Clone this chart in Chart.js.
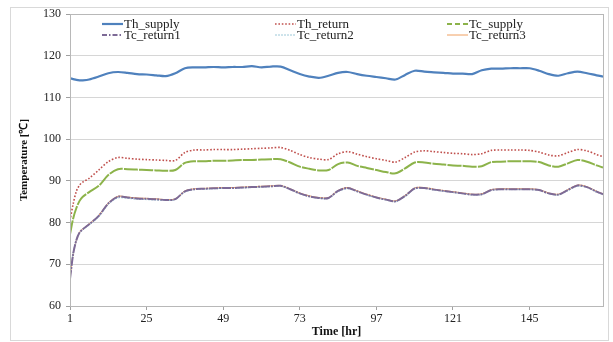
<!DOCTYPE html>
<html>
<head>
<meta charset="utf-8">
<script src="https://cdn.jsdelivr.net/npm/chart.js@4/dist/chart.umd.min.js"></script>
<style>
  html, body { margin: 0; padding: 0; background: #fff; }
  #wrap { position: relative; width: 613px; height: 342px; }
  #frame { position: absolute; left: 10px; top: 7px; width: 599px; height: 334px; border: 1px solid #d9d9d9; box-sizing: border-box; }
  canvas { position: absolute; left: 0; top: 0; }
</style>
</head>
<body>
<div id="wrap">
  <div id="frame"></div>
  <canvas id="chart" width="613" height="342"></canvas>
</div>
<script>
const hours = [1, 2, 3, 4, 5, 7, 10, 13, 16, 19, 22, 25, 28, 31, 34, 37, 40, 43, 46, 49,
  52, 55, 58, 61, 64, 67, 70, 73, 76, 79, 82, 85, 88, 91, 94, 97, 100, 103, 106, 109,
  112, 115, 118, 121, 124, 127, 130, 133, 136, 139, 142, 145, 148, 151, 154, 157, 160, 163, 166, 168];

const thSupply = [114.6, 114.4, 114.2, 114.1, 114.1, 114.3, 115.0, 115.8, 116.1, 115.9,
  115.6, 115.5, 115.3, 115.1, 115.8, 117.0, 117.2, 117.2, 117.3, 117.2,
  117.3, 117.3, 117.5, 117.2, 117.4, 117.4, 116.5, 115.6, 115.0, 114.7,
  115.2, 115.9, 116.1, 115.6, 115.2, 114.9, 114.6, 114.3, 115.4, 116.4,
  116.2, 116.0, 115.9, 115.7, 115.7, 115.6, 116.5, 116.9, 116.9, 117.0,
  117.0, 117.0, 116.4, 115.6, 115.2, 115.8, 116.2, 115.8, 115.3, 115.0];

const thReturn = [80.5, 84.5, 87.5, 89.0, 89.7, 90.6, 92.6, 94.6, 95.6, 95.4,
  95.2, 95.1, 95.0, 94.9, 94.9, 96.8, 97.4, 97.4, 97.5, 97.5,
  97.5, 97.6, 97.7, 97.8, 97.9, 98.0, 97.3, 96.3, 95.6, 95.2,
  95.1, 96.5, 97.0, 96.4, 95.8, 95.3, 94.9, 94.5, 95.6, 96.9,
  97.2, 97.0, 96.8, 96.6, 96.5, 96.3, 96.5, 97.3, 97.4, 97.4,
  97.4, 97.3, 96.9, 96.2, 96.0, 96.8, 97.5, 97.2, 96.3, 95.8];

const tcSupply = [77.2, 81.0, 83.5, 85.2, 86.2, 87.3, 88.8, 91.4, 92.8, 92.8,
  92.7, 92.6, 92.5, 92.4, 92.6, 94.3, 94.7, 94.7, 94.8, 94.8,
  94.9, 95.0, 95.0, 95.1, 95.2, 95.2, 94.4, 93.4, 92.9, 92.5,
  92.6, 94.0, 94.4, 93.6, 93.1, 92.6, 92.1, 91.8, 93.0, 94.4,
  94.4, 94.1, 93.9, 93.7, 93.6, 93.4, 93.5, 94.5, 94.6, 94.7,
  94.7, 94.7, 94.5, 93.7, 93.4, 94.2, 95.0, 94.6, 93.7, 93.2];

const tcReturn1 = [66.5, 72.5, 75.8, 77.6, 78.4, 79.6, 81.6, 84.6, 86.2, 86.0,
  85.8, 85.7, 85.6, 85.4, 85.6, 87.5, 88.0, 88.1, 88.2, 88.3,
  88.3, 88.4, 88.5, 88.6, 88.7, 88.8, 88.0, 87.0, 86.3, 85.9,
  85.9, 87.6, 88.3, 87.5, 86.7, 86.0, 85.5, 85.1, 86.4, 88.2,
  88.3, 87.9, 87.6, 87.3, 87.0, 86.7, 86.8, 87.8, 88.0, 88.0,
  88.0, 88.0, 87.8, 87.0, 86.7, 87.8, 88.9, 88.5, 87.4, 86.8];

const tcReturn2 = [66.7, 72.8, 75.9, 77.5, 78.2, 79.4, 81.3, 84.3, 85.9, 85.8,
  85.6, 85.5, 85.4, 85.3, 85.5, 87.3, 87.9, 88.0, 88.1, 88.2,
  88.2, 88.3, 88.4, 88.5, 88.6, 88.7, 87.9, 86.9, 86.2, 85.8,
  85.8, 87.4, 88.1, 87.4, 86.6, 85.9, 85.4, 85.0, 86.2, 88.0,
  88.2, 87.8, 87.5, 87.2, 86.9, 86.6, 86.7, 87.7, 87.9, 87.9,
  87.9, 87.9, 87.7, 86.9, 86.6, 87.6, 88.7, 88.4, 87.3, 86.7];

const tcReturn3 = [66.6, 72.6, 75.8, 77.7, 78.5, 79.7, 81.7, 84.7, 86.3, 86.1,
  85.9, 85.8, 85.7, 85.5, 85.7, 87.6, 88.1, 88.2, 88.3, 88.4,
  88.4, 88.5, 88.6, 88.7, 88.8, 88.9, 88.1, 87.1, 86.4, 86.0,
  86.0, 87.7, 88.4, 87.6, 86.8, 86.1, 85.6, 85.2, 86.5, 88.3,
  88.4, 88.0, 87.7, 87.4, 87.1, 86.8, 86.9, 87.9, 88.1, 88.1,
  88.1, 88.1, 87.9, 87.1, 86.8, 87.9, 89.0, 88.6, 87.5, 86.9];

const xTicks = [1, 25, 49, 73, 97, 121, 145];
const yTicks = [60, 70, 80, 90, 100, 110, 120, 130];

const FONT = '"Liberation Serif", "Times New Roman", serif';

function pts(values) {
    return values.map((v, i) => ({ x: hours[i], y: v }));
}

// legend laid out like the Excel one: 3 columns, 2 rows
const legendSlots = [
    { x: 102, y: 24 }, { x: 275, y: 24 }, { x: 447, y: 24 },
    { x: 102, y: 35 }, { x: 275, y: 35 }, { x: 447, y: 35 }
];

const excelLegend = {
    id: 'excelLegend',
    afterDraw(chart) {
        const ctx = chart.ctx;
        ctx.save();
        ctx.font = '13px ' + FONT;
        ctx.textBaseline = 'middle';
        chart.data.datasets.forEach((ds, i) => {
            const s = legendSlots[i];
            ctx.beginPath();
            ctx.strokeStyle = ds.borderColor;
            ctx.lineWidth = ds.borderWidth;
            ctx.setLineDash(ds.legendDash || ds.borderDash || []);
            ctx.moveTo(s.x, s.y);
            ctx.lineTo(s.x + 21, s.y);
            ctx.stroke();
            ctx.setLineDash([]);
            ctx.fillStyle = '#222';
            ctx.fillText(ds.label, s.x + 22, s.y + 1);
        });
        ctx.restore();
    }
};

const plotBorder = {
    id: 'plotBorder',
    afterDatasetsDraw(chart) {
        const a = chart.chartArea;
        const ctx = chart.ctx;
        ctx.save();
        ctx.strokeStyle = '#b8b8b8';
        ctx.lineWidth = 1;
        ctx.strokeRect(Math.round(a.left) + 0.5, Math.round(a.top) + 0.5,
            Math.round(a.right - a.left), Math.round(a.bottom - a.top));
        ctx.restore();
    }
};

new Chart(document.getElementById('chart').getContext('2d'), {
    type: 'line',
    data: {
        datasets: [
            { label: 'Th_supply', data: pts(thSupply), borderColor: '#4f81bd', borderWidth: 2.2 },
            { label: 'Th_return', data: pts(thReturn), borderColor: '#c0504d', borderWidth: 1.6, borderDash: [1.6, 1.8] },
            { label: 'Tc_supply', data: pts(tcSupply), borderColor: '#8cb34a', borderWidth: 2, borderDash: [14, 1.2], legendDash: [5, 3] },
            { label: 'Tc_return1', data: pts(tcReturn1), borderColor: '#7d6a96', borderWidth: 2, borderDash: [9, 1, 2, 1], legendDash: [5, 2, 1.5, 2] },
            { label: 'Tc_return2', data: pts(tcReturn2), borderColor: '#9cc8d8', borderWidth: 1, borderDash: [2, 1] },
            { label: 'Tc_return3', data: pts(tcReturn3), borderColor: '#f0a060', borderWidth: 1 }
        ]
    },
    options: {
        responsive: false,
        animation: false,
        devicePixelRatio: 1,
        elements: {
            point: { radius: 0 },
            line: { tension: 0.3 }
        },
        layout: { padding: { left: 0, right: 10, top: 14, bottom: 0 } },
        plugins: {
            legend: { display: false },
            tooltip: { enabled: false }
        },
        scales: {
            x: {
                type: 'linear',
                min: 1,
                max: 168,
                afterBuildTicks: (scale) => { scale.ticks = xTicks.map(v => ({ value: v })); },
                afterFit: (scale) => { scale.height = 36; },
                grid: { drawOnChartArea: false, color: '#a0a0a0', tickLength: 4 },
                border: { color: '#a0a0a0' },
                ticks: { maxRotation: 0, autoSkip: false, padding: 2, color: '#222', font: { family: FONT, size: 12 } },
                title: {
                    display: true,
                    text: 'Time [hr]',
                    color: '#111',
                    font: { family: FONT, size: 12, weight: 'bold' },
                    padding: { top: 0, bottom: 3 }
                }
            },
            y: {
                min: 60,
                max: 130,
                afterBuildTicks: (scale) => { scale.ticks = yTicks.map(v => ({ value: v })); },
                afterFit: (scale) => { scale.width = 70; },
                grid: { color: '#d6d6d6', tickLength: 4, tickColor: '#a0a0a0' },
                border: { color: '#a0a0a0' },
                ticks: { padding: 5, color: '#222', font: { family: FONT, size: 12 } },
                title: {
                    display: true,
                    text: 'Temperature [℃]',
                    color: '#111',
                    font: { family: FONT, size: 11, weight: 'bold' },
                    padding: { top: 18, bottom: 0 }
                }
            }
        }
    },
    plugins: [plotBorder, excelLegend]
});
</script>
</body>
</html>
